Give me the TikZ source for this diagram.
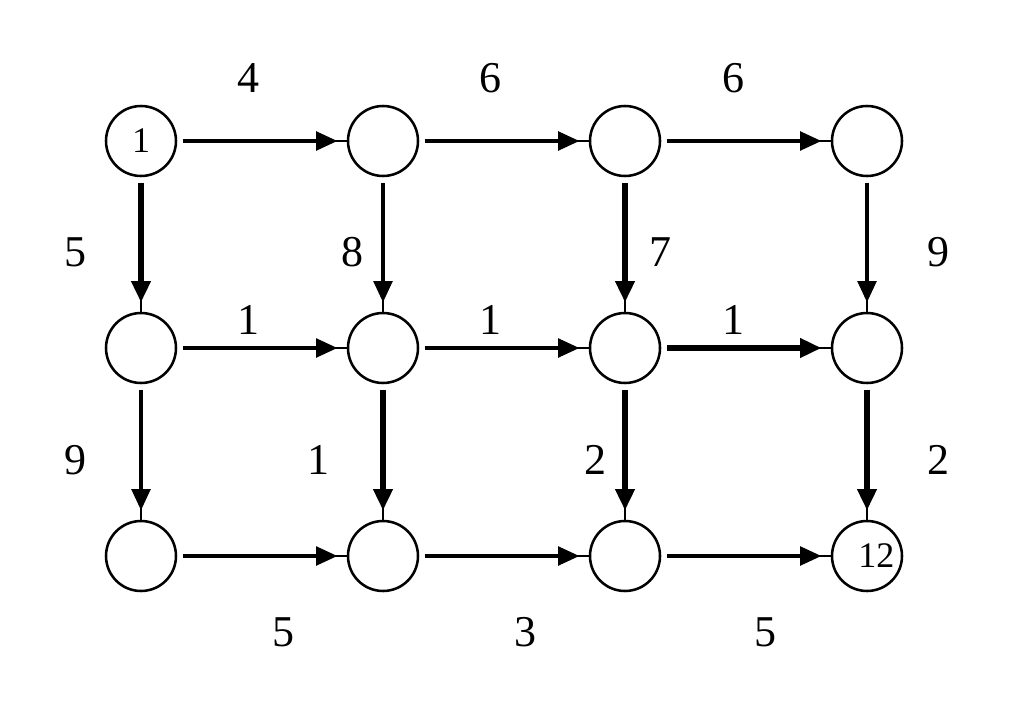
\documentclass[tikz,border=0pt]{standalone}
\usepackage{fontspec}
\setmainfont{Liberation Serif}
\usetikzlibrary{arrows.meta, positioning}

\begin{document}
\begin{tikzpicture}[
    x=0.75pt, y=-0.75pt,
    state/.style={
        draw, circle, line width=1.9pt,
        minimum size=52.5pt, inner sep=0pt,
        font=\fontsize{27}{27}\selectfont,
    },
    link/.style={
        line width=2.6pt, shorten <=4pt, shorten >=7pt,
        -{Triangle[length=16pt, width=14pt]},
        preaction={draw, -, line width=1.6pt, shorten >=0pt},
    },
    heavy/.style={link, line width=3.8pt},
    weight/.style={font=\fontsize{33}{33}\selectfont},
]
\useasboundingbox (0,0) rectangle (1024,710);

%--- Grid of states ---
\node[state] (n1)  at (141,141) {1};
\node[state] (n2)  at (383,141) {};
\node[state] (n3)  at (625,141) {};
\node[state] (n4)  at (867,141) {};
\node[state] (n5)  at (141,348) {};
\node[state] (n6)  at (383,348) {};
\node[state] (n7)  at (625,348) {};
\node[state] (n8)  at (867,348) {};
\node[state] (n9)  at (141,556) {};
\node[state] (n10) at (383,556) {};
\node[state] (n11) at (625,556) {};
\node[state] (n12) at (867,556) {\hspace*{14pt}12};

%--- Horizontal links ---
\draw[link]  (n1)  -- (n2);
\draw[link]  (n2)  -- (n3);
\draw[link]  (n3)  -- (n4);
\draw[link]  (n5)  -- (n6);
\draw[link]  (n6)  -- (n7);
\draw[heavy] (n7)  -- (n8);
\draw[link]  (n9)  -- (n10);
\draw[link]  (n10) -- (n11);
\draw[link]  (n11) -- (n12);

%--- Vertical links ---
\draw[heavy] (n1)  -- (n5);
\draw[link]  (n2)  -- (n6);
\draw[heavy] (n3)  -- (n7);
\draw[link]  (n4)  -- (n8);
\draw[link]  (n5)  -- (n9);
\draw[heavy] (n6)  -- (n10);
\draw[heavy] (n7)  -- (n11);
\draw[heavy] (n8)  -- (n12);

%--- Weights ---
\node[weight] (w12)  at (248,78)  {4};
\node[weight] (w23)  at (490,78)  {6};
\node[weight] (w34)  at (733,78)  {6};
\node[weight] (w15)  at (75,252)  {5};
\node[weight] (w26)  at (352,252) {8};
\node[weight] (w37)  at (660,252) {7};
\node[weight] (w48)  at (938,252) {9};
\node[weight] (w56)  at (248,320) {1};
\node[weight] (w67)  at (490,320) {1};
\node[weight] (w78)  at (733,320) {1};
\node[weight] (w59)  at (75,460)  {9};
\node[weight] (w610) at (318,460) {1};
\node[weight] (w711) at (595,460) {2};
\node[weight] (w812) at (938,460) {2};
\node[weight] (w910) at (283,632) {5};
\node[weight] (w1011) at (525,632) {3};
\node[weight] (w1112) at (765,632) {5};

\end{tikzpicture}
\end{document}
